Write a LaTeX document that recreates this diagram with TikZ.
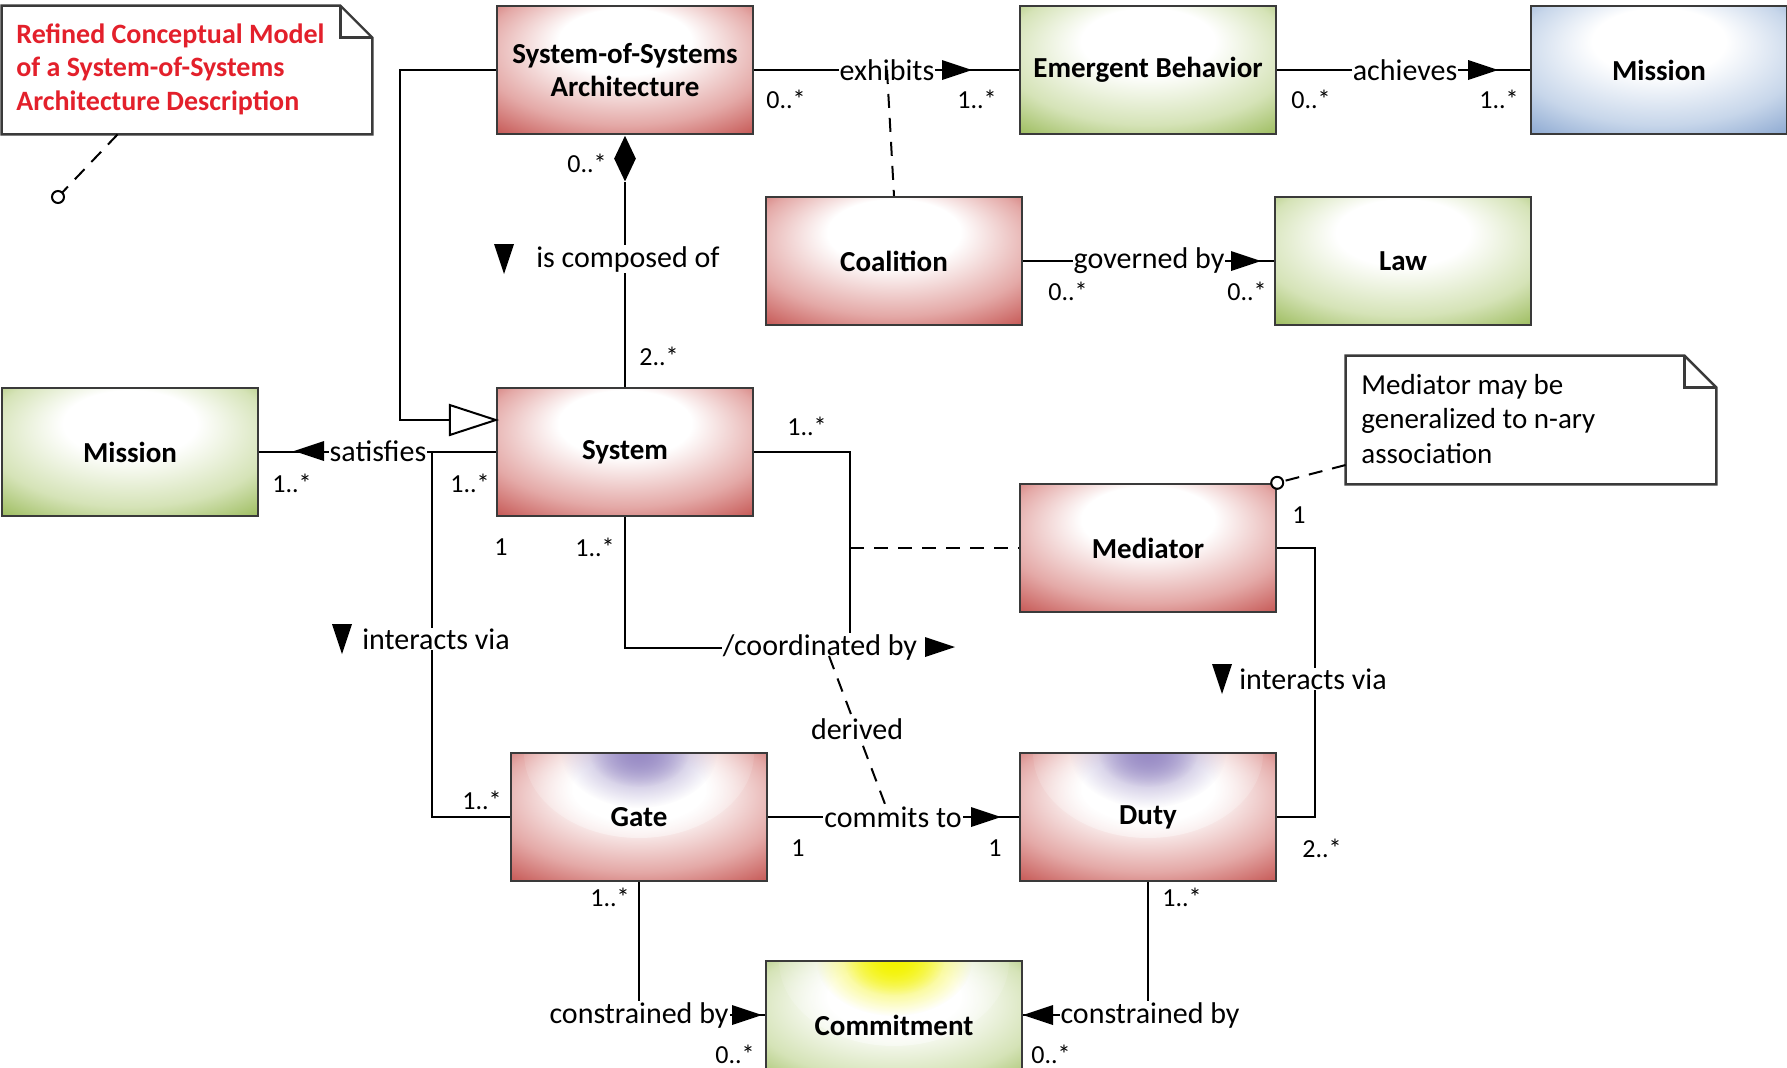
\documentclass[tikz,border=0pt]{standalone}
\usepackage{fontspec}
\setmainfont{Carlito}
\usetikzlibrary{calc,shapes.geometric,fadings}

% palette
\definecolor{redlite}{HTML}{E4A9A7}
\definecolor{reddeep}{HTML}{C3514E}
\definecolor{grnlite}{HTML}{D5E3B7}
\definecolor{grndeep}{HTML}{98B957}
\definecolor{blulite}{HTML}{C7D6EA}
\definecolor{bludeep}{HTML}{88A5CF}
\definecolor{lavspot}{HTML}{9A8DC6}
\definecolor{yelspot}{HTML}{F4F400}
\definecolor{notered}{HTML}{E3202B}
\definecolor{edgegray}{HTML}{3A3A3A}

% class fills: white highlight near the top, coloured towards the corners
\pgfdeclareradialshading{redfill}{\pgfpoint{0bp}{15bp}}{color(0bp)=(white);color(13bp)=(white);color(28bp)=(redlite);color(39bp)=(reddeep);color(50bp)=(reddeep)}
\pgfdeclareradialshading{grnfill}{\pgfpoint{0bp}{15bp}}{color(0bp)=(white);color(13bp)=(white);color(28bp)=(grnlite);color(39bp)=(grndeep);color(50bp)=(grndeep)}
\pgfdeclareradialshading{blufill}{\pgfpoint{0bp}{15bp}}{color(0bp)=(white);color(13bp)=(white);color(28bp)=(blulite);color(39bp)=(bludeep);color(50bp)=(bludeep)}

% soft spot: opaque in the middle, transparent at the rim
\tikzfading[name=softspot, inner color=transparent!0, outer color=transparent!100]

\tikzset{
  cls/.style={draw=edgegray, line width=1.2pt, minimum width=128pt, minimum height=64pt,
    inner sep=0pt, align=center, font=\bfseries\fontsize{14.5}{16.5}\selectfont},
  redcls/.style={cls, shading=redfill},
  grncls/.style={cls, shading=grnfill},
  blucls/.style={cls, shading=blufill},
  glow/.style={path picture={
      \fill[white, path fading=softspot] (path picture bounding box.north) ellipse [x radius=115, y radius=85];
      \fill[#1, path fading=softspot] (path picture bounding box.north) ellipse [x radius=78, y radius=55];
      \fill[#1, path fading=softspot] (path picture bounding box.north) ellipse [x radius=50, y radius=34];}},
  gatecls/.style={redcls, glow=lavspot},
  comcls/.style={grncls, glow=yelspot},
  wire/.style={line width=1pt, draw=black},
  dashwire/.style={line width=1pt, draw=black, dash pattern=on 7pt off 5pt},
  lbl/.style={fill=white, inner sep=0.5pt, font=\fontsize{15}{18}\selectfont},
  mult/.style={inner sep=0pt, font=\fontsize{13}{15}\selectfont},
  notebox/.style={draw=none, minimum width=185pt, minimum height=64pt, inner sep=0pt},
  noteline/.style={draw=edgegray, line width=1.2pt, fill=white},
  pics/tri/.style={code={\fill[black] (-15,-10) -- (15,0) -- (-15,10) -- cycle;}},
}

\begin{document}
\begin{tikzpicture}[x=0.5pt,y=-0.5pt]
\useasboundingbox (0,0) rectangle (1787,1067);
\clip (0,0) rectangle (1787,1067);

% ---------- notes ----------
\node[notebox] (note1) at (187,70) {};
\draw[noteline] (note1.north west) -- ($(note1.north east)+(-32,0)$) -- ($(note1.north east)+(0,32)$)
  -- (note1.south east) -- (note1.south west) -- cycle;
\draw[noteline, fill=none] ($(note1.north east)+(-32,0)$) |- ($(note1.north east)+(0,32)$);
\node[anchor=west, align=left, text=notered, inner sep=0pt,
  font=\bfseries\fontsize{14}{16.8}\selectfont] (note1txt) at (16,69)
  {Refined Conceptual Model\\of a System-of-Systems\\Architecture Description};

\node[notebox] (note2) at (1531,420) {};
\draw[noteline] (note2.north west) -- ($(note2.north east)+(-32,0)$) -- ($(note2.north east)+(0,32)$)
  -- (note2.south east) -- (note2.south west) -- cycle;
\draw[noteline, fill=none] ($(note2.north east)+(-32,0)$) |- ($(note2.north east)+(0,32)$);
\node[anchor=west, align=left, inner sep=0pt, font=\fontsize{14.5}{17.2}\selectfont] (note2txt) at (1361,419)
  {Mediator may be\\generalized to n-ary\\association};

% ---------- classes ----------
\node[redcls] (sosa) at (625,70) {System-of-Systems\\Architecture};
\node[grncls] (emerge) at (1148,70) {Emergent Behavior};
\node[blucls] (missionB) at (1659,70) {Mission};
\node[redcls] (coal) at (894,261) {Coalition};
\node[grncls] (law) at (1403,261) {Law};
\node[grncls] (missionG) at (130,452) {Mission};
\node[redcls] (system) at (625,452) {System};
\node[redcls] (mediator) at (1148,548) {Mediator};
\node[gatecls] (gate) at (639,817) {Gate};
\node[gatecls] (duty) at (1148,817) {Duty};
\node[comcls] (commit) at (894,1025) {Commitment};

% ---------- connectors ----------
\draw[wire] (sosa.east) -- (emerge.west);
\draw[wire] (emerge.east) -- (missionB.west);
\draw[wire] (coal.east) -- (law.west);
\draw[wire] (system.west) -- (missionG.east);

% composition
\node[diamond, fill=black, minimum width=11pt, minimum height=23pt, inner sep=0pt, anchor=north] (comp) at (sosa.south) {};
\draw[wire] (comp.south) -- (system.north);

% generalization
\coordinate (gentip) at ($(system.west)+(0,-32)$);
\draw[wire] (sosa.west) -| ($(gentip)+(-96,0)$) -- ($(gentip)+(-46,0)$);
\draw[wire, fill=white] ($(gentip)+(-46,-15)$) -- (gentip) -- ($(gentip)+(-46,15)$) -- cycle;

% derived self-association of System
\coordinate (selfbend) at (850,648);
\draw[wire] (system.south) |- (selfbend) |- (system.east);
\draw[dashwire] (mediator.west -| selfbend) -- (mediator.west);

% interactions
\draw[wire] (system.west) -- ++(-64,0) |- (gate.west);
\draw[wire] (mediator.east) -- ++(38,0) |- (duty.east);
\draw[wire] (gate.east) -- (duty.west);
\draw[wire] (gate.south) |- ($(commit.west)+(0,-10)$);
\draw[wire] (duty.south) |- ($(commit.east)+(0,-10)$);

% ---------- association labels ----------
\node[lbl] (lexh) at (887,70) {exhibits};
\pic at (957,70) {tri};
\node[lbl] (lach) at (1405,70) {achieves};
\pic at (1483,70) {tri};
\node[lbl] (lgov) at (1149,261) {governed by};
\pic at (1246,261) {tri};
\node[lbl] (lcomp) at (628,259) {is composed of};
\pic[rotate=-90] at (504,259) {tri};
\node[lbl] (lsat) at (378,451) {satisfies};
\pic[rotate=180] at (309,451) {tri};
\node[lbl] (lint1) at (436,639) {interacts via};
\pic[rotate=-90] at (342,639) {tri};
\node[lbl] (lcoord) at (820,647) {/coordinated by};
\pic at (940,647) {tri};
\node[lbl] (lint2) at (1313,679) {interacts via};
\pic[rotate=-90] at (1222,679) {tri};
\node[lbl] (lcmt) at (893,817) {commits to};
\pic at (986,817) {tri};
\node[lbl] (lcon1) at (639,1015) {constrained by};
\pic at (747,1015) {tri};
\node[lbl] (lcon2) at (1150,1015) {constrained by};
\pic[rotate=180] at (1038,1015) {tri};

% ---------- dependency lines ----------
\draw[dashwire] (887,70) -- (coal.north);
\coordinate (dervA) at (829,656);
\coordinate (dervB) at (888,812);
\draw[dashwire] (dervA) -- (dervB);
\node[lbl] (lder) at (857,729) {derived};

% note anchors
\coordinate (n1a) at ($(note1.south west)+(116,0)$);
\coordinate (n1c) at (58,197);
\draw[dashwire] (n1a) -- (n1c);
\draw[line width=1pt, fill=white] (n1c) circle [radius=3pt];
\coordinate (n2a) at ($(note2.west)+(0,45)$);
\draw[dashwire] (n2a) -- (mediator.north east);
\draw[line width=1pt, fill=white] (mediator.north east) circle [radius=3pt];

% ---------- multiplicities ----------
\node[mult] (m1) at (786,99) {0..*};
\node[mult] (m2) at (977,99) {1..*};
\node[mult] (m3) at (1311,99) {0..*};
\node[mult] (m4) at (1499,99) {1..*};
\node[mult] (m5) at (1068,291) {0..*};
\node[mult] (m6) at (1247,291) {0..*};
\node[mult] (m7) at (587,163) {0..*};
\node[mult] (m8) at (659,356) {2..*};
\node[mult] (m9) at (292,483) {1..*};
\node[mult] (m10) at (470,483) {1..*};
\node[mult] (m11) at (501,547) {1};
\node[mult] (m12) at (595,547) {1..*};
\node[mult] (m13) at (807,426) {1..*};
\node[mult] (m14) at (1299,515) {1};
\node[mult] (m15) at (1322,848) {2..*};
\node[mult] (m16) at (482,800) {1..*};
\node[mult] (m17) at (798,848) {1};
\node[mult] (m18) at (995,848) {1};
\node[mult] (m19) at (610,897) {1..*};
\node[mult] (m20) at (1182,897) {1..*};
\node[mult] (m21) at (735,1054) {0..*};
\node[mult] (m22) at (1051,1054) {0..*};
\end{tikzpicture}
\end{document}
